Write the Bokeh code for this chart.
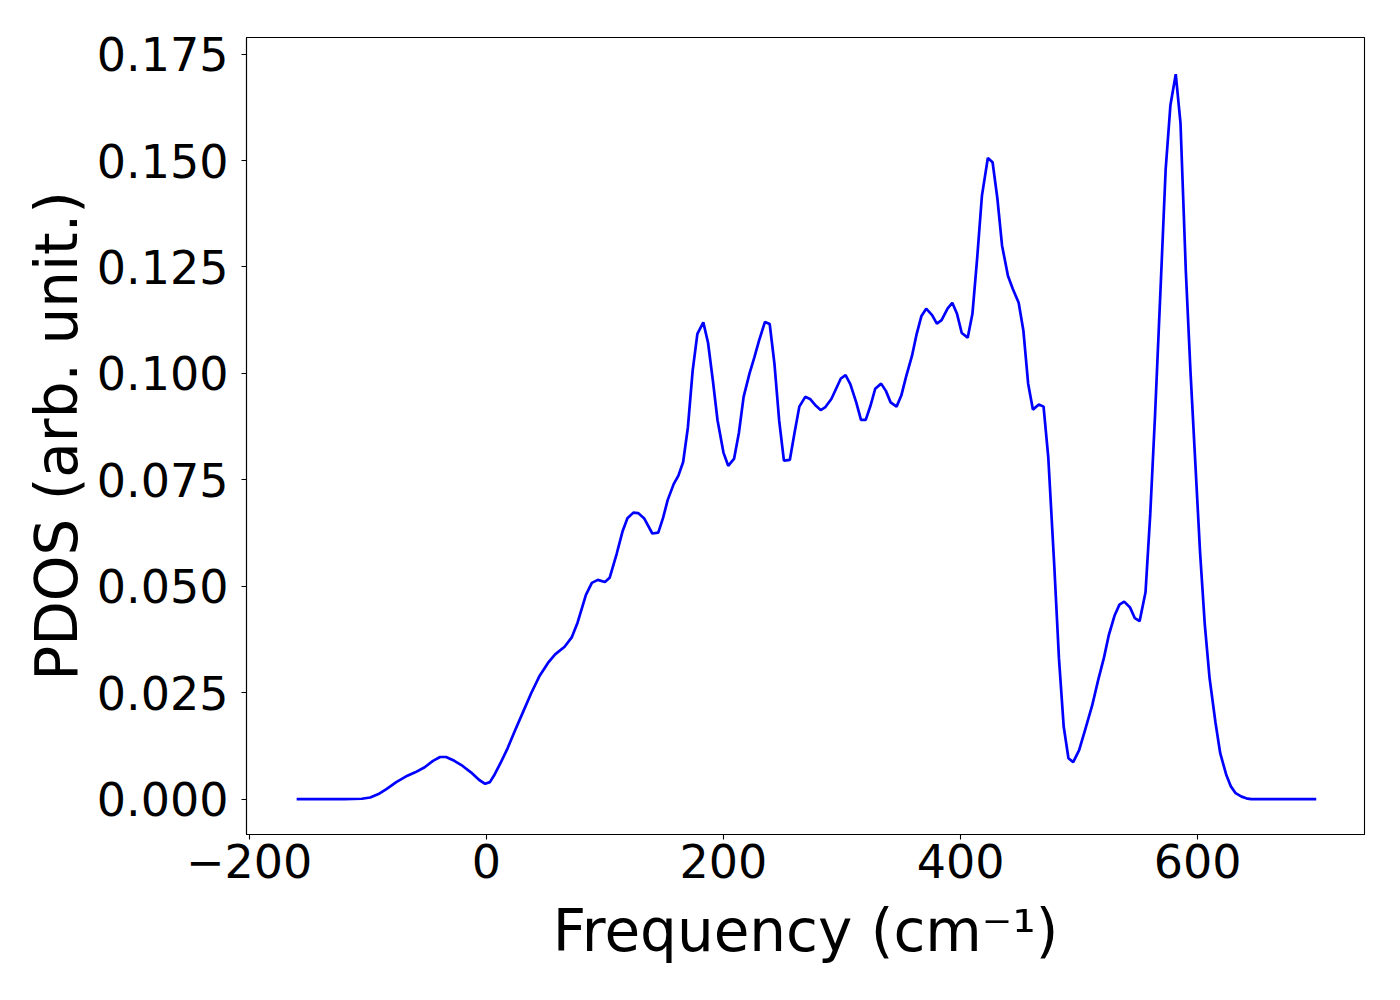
from bokeh.plotting import figure
from bokeh.models import FixedTicker, Range1d, PrintfTickFormatter
from bokeh.embed import file_html
from bokeh.resources import INLINE

# ---- data ----
freq = [-160, -120, -105, -98, -91, -84, -76, -68, -60, -52, -45, -39, -34, -27, -20,
        -13, -6, -1, 3, 7, 12, 18, 24, 31, 38, 45, 52, 58, 66, 72, 77, 84, 89, 94,
        100, 104, 110, 115, 119, 124, 128, 133, 140, 145, 149, 153, 158, 162, 166,
        170, 174, 178, 183, 187, 191, 195, 200, 204, 209, 213, 217, 222, 226, 230,
        235, 239, 243, 247, 251, 256, 260, 264, 269, 273, 278, 282, 286, 291, 295,
        299, 303, 307, 312, 316, 320, 324, 328, 333, 337, 341, 346, 350, 354, 359,
        363, 367, 371, 376, 380, 384, 389, 393, 397, 401, 406, 410, 414, 418, 423,
        427, 431, 435, 440, 444, 449, 453, 457, 461, 466, 470, 474, 479, 483, 487,
        491, 495, 500, 505, 511, 516, 521, 525, 530, 534, 538, 543, 547, 551, 556,
        560, 564, 569, 573, 577, 581.5, 585.5, 590, 594, 598, 602, 606, 610, 615,
        619, 624, 628, 632, 637, 641, 645, 700]
pdos = [0.0, 0.0, 0.0001, 0.0004, 0.0012, 0.0024, 0.0040, 0.0053, 0.0063, 0.0075,
        0.0090, 0.0099, 0.0099, 0.0090, 0.0078, 0.0063, 0.0045, 0.0036, 0.0040,
        0.0058, 0.0085, 0.0120, 0.0160, 0.0205, 0.0250, 0.0290, 0.0320, 0.0340,
        0.0358, 0.0380, 0.0415, 0.0480, 0.0508, 0.0515, 0.0510, 0.0520, 0.0577,
        0.0630, 0.0660, 0.0673, 0.0672, 0.0660, 0.0624, 0.0626, 0.0660, 0.0703,
        0.0740, 0.0760, 0.0792, 0.0873, 0.1006, 0.1093, 0.1120, 0.1072, 0.0985,
        0.0890, 0.0814, 0.0783, 0.0800, 0.0860, 0.0945, 0.1000, 0.1037, 0.1077,
        0.1121, 0.1116, 0.1023, 0.0889, 0.0795, 0.0797, 0.0861, 0.0922, 0.0945,
        0.0940, 0.0924, 0.0914, 0.0921, 0.0940, 0.0964, 0.0988, 0.0996, 0.0975,
        0.0932, 0.0891, 0.0891, 0.0924, 0.0964, 0.0976, 0.0959, 0.0932, 0.0922,
        0.0948, 0.0992, 0.1041, 0.1093, 0.1135, 0.1152, 0.1137, 0.1117, 0.1125,
        0.1152, 0.1166, 0.1140, 0.1095, 0.1084, 0.1140, 0.1271, 0.1417, 0.1506,
        0.1496, 0.1412, 0.1300, 0.1229, 0.1199, 0.1166, 0.1100, 0.0976, 0.0915,
        0.0927, 0.0922, 0.0802, 0.0550, 0.0330, 0.0170, 0.0096, 0.0087, 0.0115,
        0.0162, 0.0220, 0.0279, 0.0333, 0.0385, 0.0432, 0.0457, 0.0464, 0.0450,
        0.0425, 0.0418, 0.0486, 0.0670, 0.0900, 0.1220, 0.1480, 0.1630, 0.1703,
        0.1588, 0.1240, 0.1000, 0.0790, 0.0580, 0.0410, 0.0285, 0.0180, 0.0108,
        0.0058, 0.0030, 0.0014, 0.0006, 0.0002, 0.0, 0.0]

x_ticks = [-200, 0, 200, 400, 600]
x_tick_labels = ["\u2212200", "0", "200", "400", "600"]
y_ticks = [0.0, 0.025, 0.05, 0.075, 0.1, 0.125, 0.15, 0.175]

x_label = "Frequency (cm\u207b\u00b9)"
y_label = "PDOS (arb. unit.)"

FONT = "DejaVu Sans"
TICK_SIZE = 46
LABEL_SIZE = 58

p = figure(width=1384, height=984, output_backend="svg", toolbar_location=None,
           title=None,
           x_range=Range1d(-202.3, 740.7), y_range=Range1d(-0.0083, 0.1789),
           min_border_left=246, min_border_right=20, min_border_top=37,
           min_border_bottom=150)

p.line(freq, pdos, line_color="#0000ff", line_width=2.7)

p.xgrid.visible = False
p.ygrid.visible = False
p.outline_line_color = "black"
p.outline_line_width = 1.1
p.background_fill_color = "white"
p.border_fill_color = "white"

p.xaxis.ticker = FixedTicker(ticks=x_ticks)
p.xaxis.major_label_overrides = {t: l for t, l in zip(x_ticks, x_tick_labels)}
p.yaxis.ticker = FixedTicker(ticks=y_ticks)
p.yaxis.formatter = PrintfTickFormatter(format="%.3f")

for ax in (p.xaxis[0], p.yaxis[0]):
    ax.axis_line_color = "black"
    ax.axis_line_width = 1.1
    ax.major_tick_line_color = "black"
    ax.major_tick_line_width = 1.1
    ax.major_tick_out = 5
    ax.major_tick_in = 0
    ax.minor_tick_line_color = None
    ax.major_label_text_font = FONT
    ax.major_label_text_font_size = f"{TICK_SIZE}px"
    ax.major_label_text_color = "black"
    ax.axis_label_text_font = FONT
    ax.axis_label_text_font_size = f"{LABEL_SIZE}px"
    ax.axis_label_text_font_style = "normal"
    ax.axis_label_text_color = "black"

p.xaxis.major_label_standoff = 4
p.xaxis.axis_label = x_label
p.xaxis.axis_label_standoff = 16
p.yaxis.major_label_standoff = 13
p.yaxis.axis_label = y_label
p.yaxis.axis_label_standoff = 3

open("out.html", "w").write(file_html(p, INLINE))
